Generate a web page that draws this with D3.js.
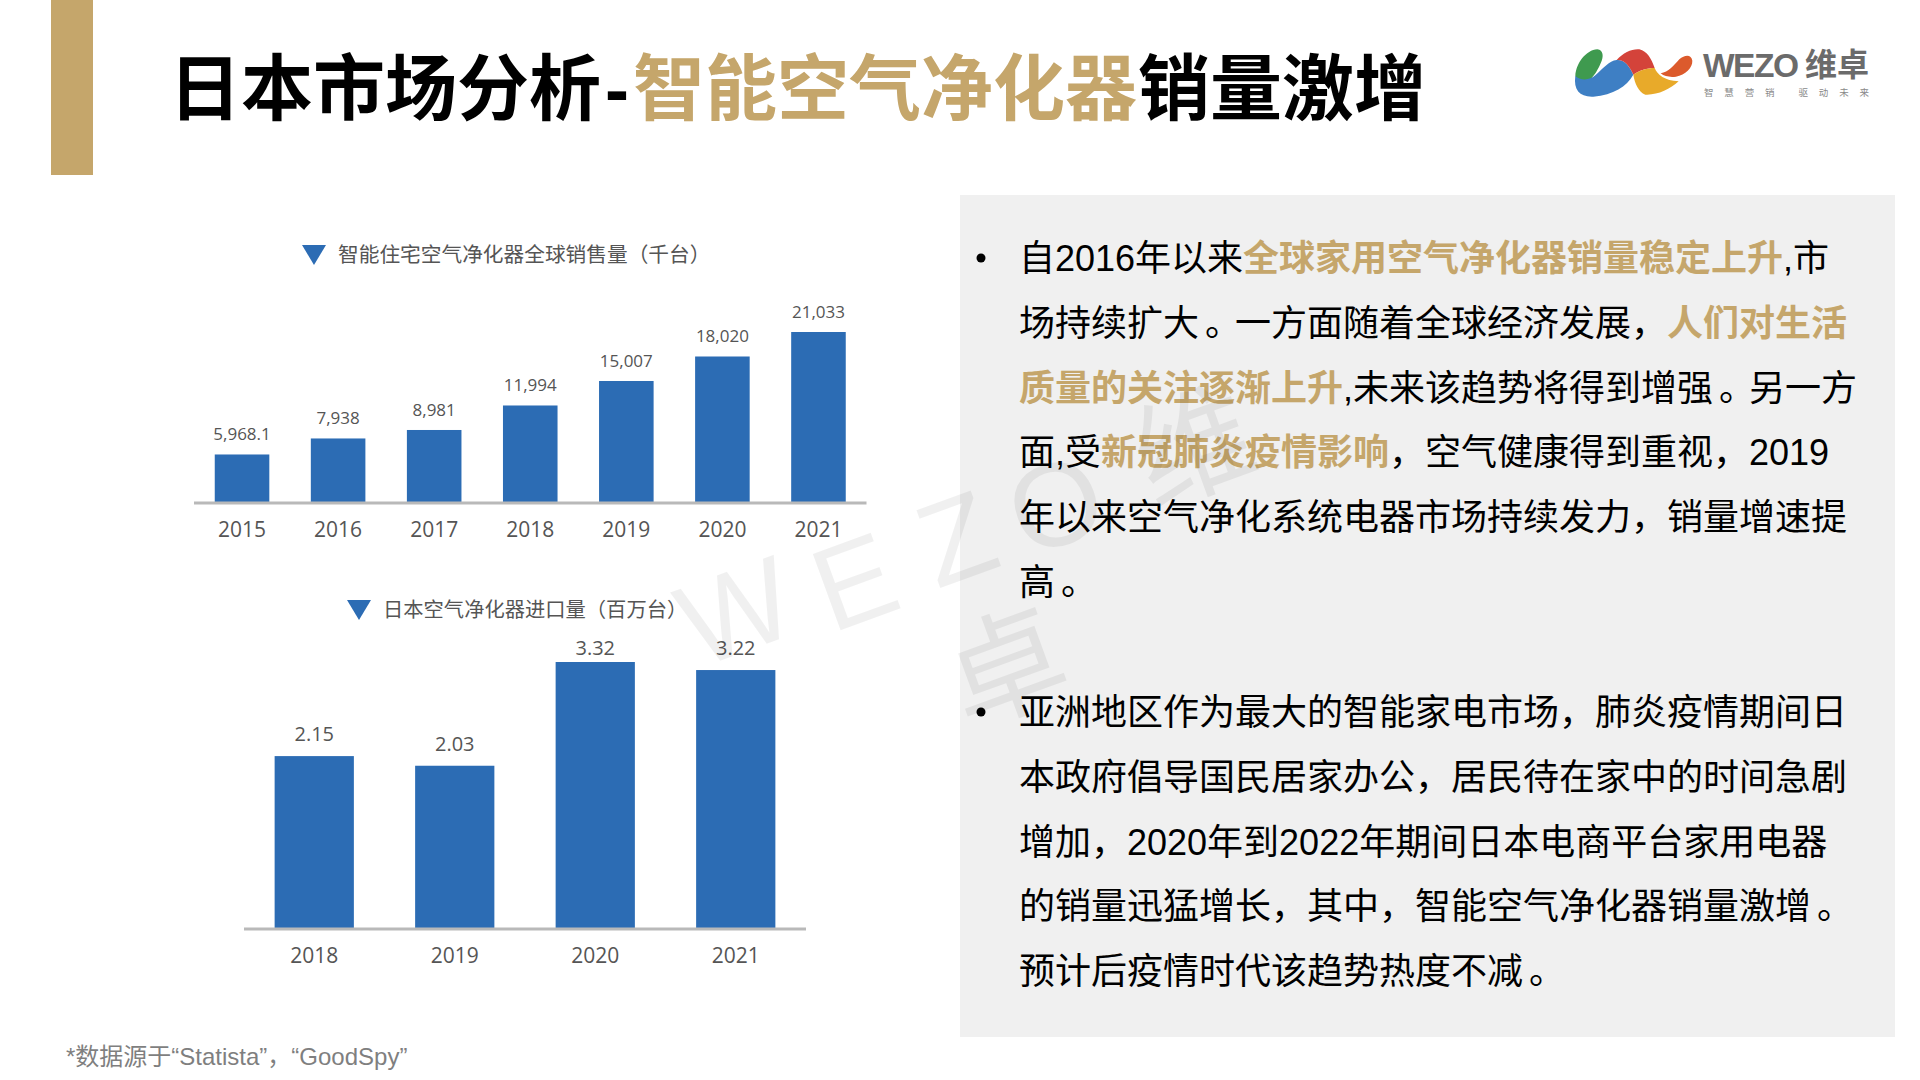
<!DOCTYPE html>
<html lang="zh-CN">
<head>
    <meta charset="UTF-8">
    <title>日本市场分析</title>
    <style>
        html, body { margin: 0; background: #fff; }
        svg { display: block; }
        text { font-family: "Liberation Sans", "Noto Sans CJK SC", sans-serif; }
        .cn { font-family: "Noto Sans CJK SC", sans-serif; }
        .chart text { font-family: "Open Sans", "Noto Sans CJK SC", sans-serif; fill: #555; }
        .chart .tick line { display: none; }
        .chart .domain { stroke: #b9b9b9; stroke-width: 3; }
    </style>
</head>
<body>
<script src="https://cdn.jsdelivr.net/npm/d3@7/dist/d3.min.js"></script>
<script>
    const gold = '#c5a66b'
    const blue = '#2c6cb4'

    // top chart
    const salesYears = ['2015', '2016', '2017', '2018', '2019', '2020', '2021']
    const salesValues = [5968.1, 7938, 8981, 11994, 15007, 18020, 21033]
    const salesLabels = ['5,968.1', '7,938', '8,981', '11,994', '15,007', '18,020', '21,033']
    const salesTitle = '智能住宅空气净化器全球销售量（千台）'

    // bottom chart
    const importYears = ['2018', '2019', '2020', '2021']
    const importValues = [2.15, 2.03, 3.32, 3.22]
    const importLabels = ['2.15', '2.03', '3.32', '3.22']
    const importTitle = '日本空气净化器进口量（百万台）'

    // [text, highlighted]
    const titleParts = [['日本市场分析', 0], ['-', 0], ['智能空气净化器', 1], ['销量激增', 0]]
    const para1 = [
        [['自2016年以来', 0], ['全球家用空气净化器销量稳定上升', 1], [',市', 0]],
        [['场持续扩大。一方面随着全球经济发展，', 0], ['人们对生活', 1]],
        [['质量的关注逐渐上升', 1], [',未来该趋势将得到增强。另一方', 0]],
        [['面,受', 0], ['新冠肺炎疫情影响', 1], ['，空气健康得到重视，2019', 0]],
        [['年以来空气净化系统电器市场持续发力，销量增速提', 0]],
        [['高。', 0]]
    ]
    const para2 = [
        [['亚洲地区作为最大的智能家电市场，肺炎疫情期间日', 0]],
        [['本政府倡导国民居家办公，居民待在家中的时间急剧', 0]],
        [['增加，2020年到2022年期间日本电商平台家用电器', 0]],
        [['的销量迅猛增长，其中，智能空气净化器销量激增。', 0]],
        [['预计后疫情时代该趋势热度不减。', 0]]
    ]
    const footnote = '*数据源于“Statista”，“GoodSpy”'

    const svg = d3.select('body').append('svg').attr('width', 1920).attr('height', 1080)

    svg.append('rect').attr('x', 51).attr('y', 0).attr('width', 42).attr('height', 175).attr('fill', gold)
    svg.append('rect').attr('x', 960).attr('y', 195).attr('width', 935).attr('height', 842).attr('fill', '#f0f0f0')

    function segments(sel, parts, goldWeight) {
        // the full stop sits further right in its cell than in this font
        let pieces = parts.flatMap(p => p[0].split(/(。)/).filter(s => s).map(s => [s, p[1]]))
        sel.selectAll('tspan')
            .data(pieces)
            .enter()
            .append('tspan')
            .attr('fill', d => d[1] ? gold : '#000')
            .attr('font-weight', d => d[1] ? goldWeight : null)
            .attr('dx', d => d[0] === '。' ? 6 : null)
            .attr('letter-spacing', d => d[0] === '。' ? -6 : null)
            .text(d => d[0])
    }

    // title
    const title = svg.append('text')
        .attr('x', 169).attr('y', 114)
        .attr('font-size', 72).attr('font-weight', 700)
        .call(segments, titleParts, 700)
    title.selectAll('tspan').attr('dx', (d, i) => [null, 4, 4, 1][i])

    // logo
    const logo = svg.append('g').attr('transform', 'translate(1570,40) scale(0.3333)')
    logo.append('path').attr('fill', '#3f9a4f')
        .attr('d', 'M16,108 C18,70 48,30 82,28 C100,30 102,50 92,70 C84,88 78,100 62,118 C40,126 20,122 16,108Z')
    logo.append('path').attr('fill', '#3e7fc4')
        .attr('d', 'M16,108 C30,122 60,122 76,106 C96,88 118,62 140,60 C162,58 178,76 190,104 C170,140 130,164 70,170 C30,172 10,150 16,108Z')
    logo.append('path').attr('fill', '#d4433a')
        .attr('d', 'M140,60 C160,38 186,26 208,28 C232,34 244,56 254,84 C232,84 206,92 190,104 C178,76 162,58 140,60Z')
    logo.append('path').attr('fill', '#e8aa2a')
        .attr('d', 'M190,104 C206,92 232,84 254,84 C262,104 284,122 326,124 C300,148 262,166 226,164 C206,156 194,130 190,104Z')
    logo.append('path').attr('fill', '#dc5a2c')
        .attr('d', 'M272,100 C296,96 310,78 328,58 C344,44 364,42 367,62 C368,84 346,104 318,110 C300,112 284,110 272,100Z')

    svg.append('text').attr('x', 1703).attr('y', 77).attr('font-size', 33.5).attr('font-weight', 700).attr('fill', '#6b6b6b')
        .attr('textLength', 96).text('WEZO')
    svg.append('text').attr('class', 'cn').attr('x', 1805).attr('y', 76).attr('font-size', 32).attr('font-weight', 700).attr('fill', '#6b6b6b')
        .text('维卓')
    svg.append('text').attr('class', 'cn').attr('x', 1704).attr('y', 96).attr('font-size', 9.5).attr('fill', '#8a8a8a')
        .attr('textLength', 165).text('智慧营销 驱动未来')

    function barChart(cfg) {
        const x = d3.scaleBand()
            .domain(cfg.years)
            .range([cfg.left, cfg.right])
            .paddingInner(cfg.pad)
            .paddingOuter(cfg.pad / 2)
        const y = d3.scaleLinear()
            .domain([0, d3.max(cfg.values)])
            .range([cfg.base, cfg.top])

        const g = svg.append('g').attr('class', 'chart')

        g.selectAll('rect.bar')
            .data(cfg.values)
            .enter()
            .append('rect')
            .attr('class', 'bar')
            .attr('x', (d, i) => x(cfg.years[i]))
            .attr('y', d => y(d))
            .attr('width', x.bandwidth())
            .attr('height', d => y(0) - y(d))
            .attr('fill', blue)

        g.selectAll('text.val')
            .data(cfg.values)
            .enter()
            .append('text')
            .attr('class', 'val')
            .attr('x', (d, i) => x(cfg.years[i]) + x.bandwidth() / 2)
            .attr('y', d => Math.max(y(d) - cfg.valGap, cfg.valMin))
            .attr('text-anchor', 'middle')
            .attr('font-size', cfg.valSize)
            .text((d, i) => cfg.labels[i])

        const axis = g.append('g')
            .attr('transform', `translate(0,${cfg.base})`)
            .call(d3.axisBottom(x).tickSize(0).tickPadding(cfg.tickPad))
        axis.selectAll('text').attr('font-size', 21).style('font-family', null)
        axis.select('.domain').attr('d', `M${cfg.left},0H${cfg.right}`)

        g.append('path')
            .attr('d', `M${cfg.triX},${cfg.titleY - 10}h${cfg.triW}l${-cfg.triW / 2},20Z`)
            .attr('fill', blue)
        g.append('text')
            .attr('class', 'cn')
            .attr('x', cfg.titleX).attr('y', cfg.titleY + 7)
            .attr('font-size', cfg.titleSize)
            .style('font-family', '"Noto Sans CJK SC", sans-serif')
            .text(cfg.title)
    }

    barChart({
        years: salesYears, values: salesValues, labels: salesLabels, title: salesTitle,
        left: 194, right: 866.5, pad: 0.432, base: 503, top: 332,
        valGap: 14, valMin: 0, valSize: 17, tickPad: 19,
        triX: 302, triW: 24, titleX: 338, titleY: 255, titleSize: 20.7
    })
    barChart({
        years: importYears, values: importValues, labels: importLabels, title: importTitle,
        left: 244, right: 806, pad: 0.436, base: 929, top: 662,
        valGap: 15, valMin: 655, valSize: 20, tickPad: 19,
        triX: 347, triW: 24, titleX: 383, titleY: 610, titleSize: 20.3
    })

    // body text
    function paragraph(lines, y0) {
        svg.append('circle').attr('cx', 981).attr('cy', y0 - 13).attr('r', 4.5).attr('fill', '#000')
        lines.forEach((parts, i) => {
            svg.append('text')
                .attr('x', 1019).attr('y', y0 + i * 64.8)
                .attr('font-size', 36)
                .call(segments, parts, 700)
        })
    }
    paragraph(para1, 271)
    paragraph(para2, 725)

    svg.append('text').attr('x', 66).attr('y', 1065).attr('font-size', 24).attr('fill', '#7f7f7f').text(footnote)

    // watermark
    const markChars = ['W', 'E', 'Z', 'O', '维', '卓']
    const markX = [735, 854, 956, 1055, 1194, 1006]
    const markY = [610, 580, 537, 503, 447, 668]
    svg.append('g').selectAll('text')
        .data(markChars)
        .enter()
        .append('text')
        .attr('transform', (d, i) => `translate(${markX[i]},${markY[i]}) rotate(-20)`)
        .attr('text-anchor', 'middle')
        .attr('dy', '0.36em')
        .attr('font-size', 118)
        .attr('fill', '#000')
        .attr('fill-opacity', 0.06)
        .text(d => d)
</script>
</body>
</html>
